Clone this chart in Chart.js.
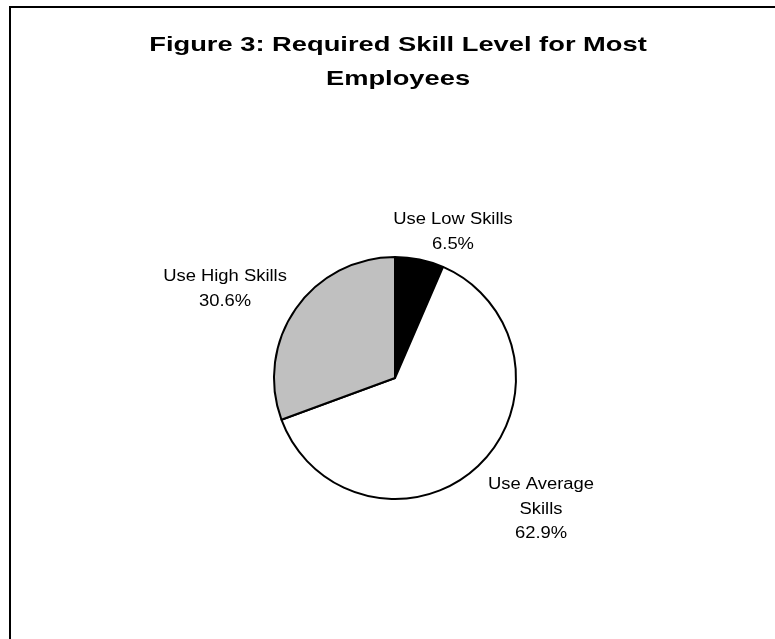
<!DOCTYPE html>
<html>
<head>
<meta charset="utf-8">
<script src="https://cdn.jsdelivr.net/npm/chart.js@4"></script>
<style>
  html, body { margin: 0; padding: 0; background: #fff; }
  #wrap { width: 775px; height: 639px; }
</style>
</head>
<body>
<div id="wrap"><canvas id="skillChart" width="775" height="639"></canvas></div>
<script>
const titleLines = ['Figure 3: Required Skill Level for Most', 'Employees'];
const categories = [['Use Low Skills'], ['Use Average', 'Skills'], ['Use High Skills']];
const shares = [6.5, 62.9, 30.6];
const sliceColors = ['#000000', '#ffffff', '#c0c0c0'];

// label anchors relative to the pie centre (first baseline)
const labelOffsets = [[58, -154], [146, 111], [-170, -97]];

// frame + title + outside labels, text slightly widened
const decorPlugin = {
    id: 'decor',
    afterDraw(chart) {
        const ctx = chart.ctx;
        ctx.save();

        ctx.strokeStyle = '#000';
        ctx.lineWidth = 2;
        ctx.beginPath();
        ctx.moveTo(10, 639);
        ctx.lineTo(10, 7);
        ctx.lineTo(775, 7);
        ctx.stroke();

        const drawText = (text, x, y, font, sx) => {
            ctx.save();
            ctx.translate(x, y);
            ctx.scale(sx, 1);
            ctx.font = font;
            ctx.fillStyle = '#000';
            ctx.textAlign = 'center';
            ctx.textBaseline = 'alphabetic';
            ctx.fillText(text, 0, 0);
            ctx.restore();
        };

        titleLines.forEach((line, i) => {
            drawText(line, 398, 51 + i * 34, 'bold 21px "Liberation Sans", Arial, sans-serif', 1.3);
        });

        const meta = chart.getDatasetMeta(0);
        meta.data.forEach((arc, i) => {
            const lines = categories[i].concat([shares[i].toFixed(1) + '%']);
            const [dx, dy] = labelOffsets[i];
            lines.forEach((line, j) => {
                drawText(line, arc.x + dx, arc.y + dy + j * 24.5, '16px "Liberation Sans", Arial, sans-serif', 1.15);
            });
        });

        ctx.restore();
    }
};

new Chart(document.getElementById('skillChart'), {
    type: 'pie',
    data: {
        labels: categories.map(c => c.join(' ')),
        datasets: [{
            data: shares,
            backgroundColor: sliceColors,
            borderColor: '#000',
            borderWidth: 2
        }]
    },
    options: {
        responsive: false,
        animation: false,
        radius: 121,
        layout: {
            padding: { left: 150, right: 135, top: 240, bottom: 123 }
        },
        plugins: {
            legend: { display: false },
            tooltip: { enabled: false },
            title: { display: false }
        }
    },
    plugins: [decorPlugin]
});
</script>
</body>
</html>
